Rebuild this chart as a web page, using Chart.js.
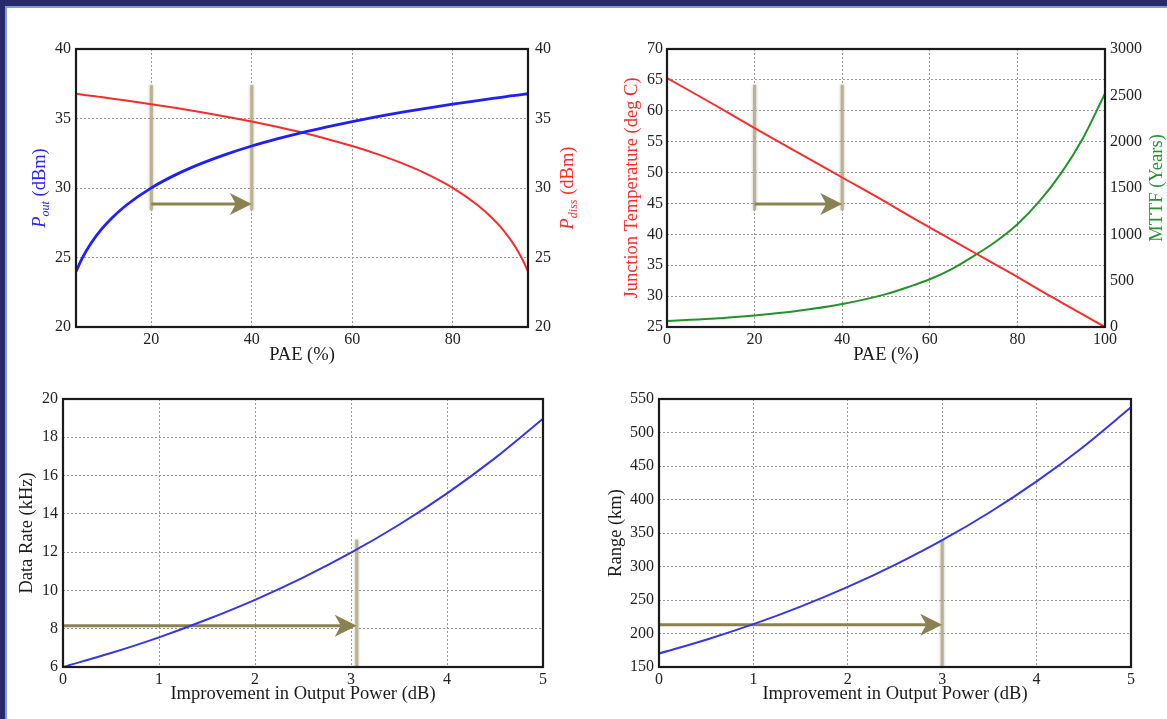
<!DOCTYPE html>
<html><head><meta charset="utf-8">
<script src="https://cdn.jsdelivr.net/npm/chart.js@4.4.1/dist/chart.umd.min.js"></script>
<style>
html,body{margin:0;padding:0;background:#fff;width:1167px;height:719px;overflow:hidden;position:relative}
.topband{position:absolute;left:0;top:0;width:1167px;height:6px;background:#262a68}
.topline{position:absolute;left:0;top:6px;width:1167px;height:2px;background:#7f9bd8}
.leftband{position:absolute;left:0;top:0;width:5px;height:719px;background:#262a68}
.leftline{position:absolute;left:5px;top:6px;width:2px;height:713px;background:#7f9bd8}
canvas{position:absolute}
</style></head>
<body>
<div class="topband"></div><div class="topline"></div><div class="leftband"></div><div class="leftline"></div>
<canvas id="c1" width="570" height="365" style="left:10px;top:10px"></canvas>
<canvas id="c2" width="582" height="365" style="left:585px;top:10px"></canvas>
<canvas id="c3" width="570" height="339" style="left:10px;top:380px"></canvas>
<canvas id="c4" width="582" height="339" style="left:585px;top:380px"></canvas>
<script>
// ---------- Chart 1: Pout / Pdiss vs PAE ----------
const paeA   = [5,6,7,8,10,12,15,20,25,30,35,40,45,50,55,60,65,70,75,80,85,88,90,92,93,94,95];
const poutA  = [23.99,24.78,25.45,26.03,27.00,27.79,28.76,30.01,30.98,31.77,32.44,33.02,33.53,33.99,34.40,34.78,35.13,35.45,35.75,36.03,36.29,36.44,36.54,36.64,36.68,36.73,36.78];
const pdissA = [36.78,36.73,36.68,36.64,36.54,36.44,36.29,36.03,35.75,35.45,35.13,34.78,34.40,33.99,33.53,33.02,32.44,31.77,30.98,30.01,28.76,27.79,27.00,26.03,25.45,24.78,23.99];
const xTicksA = [20,40,60,80];
const yTicksA = [20,25,30,35,40];
const barsA  = [20,40];          // PAE of the two marker bars
const barSpanA = [28.4,37.4];    // dBm extent of marker bars
const arrowA = [20,40,28.85];    // from PAE, to PAE, at dBm

// ---------- Chart 2: Junction temperature / MTTF vs PAE ----------
const paeB  = [0,10,20,30,40,50,55,60,65,70,75,80,85,90,95,100];
const tjB   = [65.3,61.3,57.2,53.2,49.2,45.2,43.1,41.1,39.1,37.1,35.1,33.1,31.0,29.0,27.0,25.0];
const mttfB = [65,90,125,175,248,355,430,515,625,765,920,1110,1355,1660,2040,2520];
const xTicksB = [0,20,40,60,80,100];
const yTicksB = [25,30,35,40,45,50,55,60,65,70];
const y2TicksB = [0,500,1000,1500,2000,2500,3000];
const barsB = [20,40];
const barSpanB = [43.9,64.2];
const arrowB = [20,40,44.9];

// ---------- Chart 3: Data rate vs improvement ----------
const dbC   = [0,0.5,1,1.5,2,2.5,3,3.5,4,4.5,5];
const rateC = [6.00,6.73,7.55,8.48,9.51,10.67,11.97,13.43,15.07,16.91,18.97];
const xTicksC = [0,1,2,3,4,5];
const yTicksC = [6,8,10,12,14,16,18,20];
const barsC = [3.06];
const barSpanC = [6,12.65];
const arrowC = [0,3.06,8.15];

// ---------- Chart 4: Range vs improvement ----------
const dbD    = [0,0.5,1,1.5,2,2.5,3,3.5,4,4.5,5];
const rangeD = [170,190.7,214.0,240.2,269.5,302.4,339.2,380.6,427.0,479.2,537.6];
const xTicksD = [0,1,2,3,4,5];
const yTicksD = [150,200,250,300,350,400,450,500,550];
const barsD = [3.0];
const barSpanD = [150,340];
const arrowD = [0,3.0,213];

const FONT = "'Liberation Serif','Times New Roman',serif";
const TICKC = '#222';
const GRIDC = '#9a9a9a';

function pts(xs, ys){ return xs.map((x,i)=>({x:x, y:ys[i]})); }

function yScale(pos, min, max, ticksArr, width, pad, grid){
  return {
    type:'linear', position:pos, min:min, max:max,
    afterBuildTicks: s => { s.ticks = ticksArr.map(v=>({value:v})); },
    afterFit: s => { s.width = width; },
    grid: grid ? {display:true, color:GRIDC, lineWidth:1, drawTicks:false} : {display:false, drawTicks:false},
    border: {display:false, dash:[2,2]},
    ticks: {padding:pad, color:TICKC, font:{family:FONT, size:16}, autoSkip:false, callback:v=>String(v)},
    title: {display:false}
  };
}
function xScale(min, max, ticksArr, height, pad, text, tpad){
  return {
    type:'linear', position:'bottom', min:min, max:max,
    afterBuildTicks: s => { s.ticks = ticksArr.map(v=>({value:v})); },
    afterFit: s => { s.height = height; },
    grid: {display:true, color:GRIDC, lineWidth:1, drawTicks:false},
    border: {display:false, dash:[2,2]},
    ticks: {padding:pad, color:TICKC, font:{family:FONT, size:16}, autoSkip:false, maxRotation:0, callback:v=>String(v)},
    title: {display:true, text:text, color:'#1a1a1a', font:{family:FONT, size:18.5}, padding:{top:0, bottom:tpad}}
  };
}

function drawRotTitle(ctx, cx, cy, parts, color, size){
  ctx.save();
  ctx.translate(cx, cy);
  ctx.rotate(-Math.PI/2);
  ctx.fillStyle = color;
  ctx.textBaseline = 'middle';
  ctx.textAlign = 'left';
  const fonts = parts.map(p => (p.i ? 'italic ' : '') + (p.sub ? Math.round(size*0.66) : size) + 'px ' + FONT);
  let total = 0; const ws = [];
  parts.forEach((p,k)=>{ ctx.font = fonts[k]; ws[k] = ctx.measureText(p.t).width; total += ws[k]; });
  let x = -total/2;
  parts.forEach((p,k)=>{ ctx.font = fonts[k]; ctx.fillText(p.t, x, p.sub ? size*0.3 : 0); x += ws[k]; });
  ctx.restore();
}

const deco = {
  id:'deco',
  beforeDatasetsDraw(chart, args, o){
    const ctx = chart.ctx, xs = chart.scales.x, ys = chart.scales.y;
    ctx.save();
    ctx.shadowColor = 'rgba(60,50,20,0.35)';
    ctx.shadowBlur = 3;
    ctx.strokeStyle = '#bab290';
    ctx.lineWidth = 3;
    o.bars.forEach(b=>{
      const px = xs.getPixelForValue(b);
      ctx.beginPath();
      ctx.moveTo(px, ys.getPixelForValue(o.span[0]));
      ctx.lineTo(px, ys.getPixelForValue(o.span[1]));
      ctx.stroke();
    });
    ctx.shadowBlur = 0; ctx.shadowColor = 'transparent';
    const x0 = xs.getPixelForValue(o.arrow[0]), x1 = xs.getPixelForValue(o.arrow[1]);
    const y = ys.getPixelForValue(o.arrow[2]);
    const L = 22, H = 11, N = 6;
    ctx.strokeStyle = '#8b8252'; ctx.fillStyle = '#8b8252';
    ctx.lineWidth = 3;
    ctx.beginPath(); ctx.moveTo(x0, y); ctx.lineTo(x1 - L + N + 1, y); ctx.stroke();
    ctx.beginPath();
    ctx.moveTo(x1, y); ctx.lineTo(x1 - L, y - H); ctx.lineTo(x1 - L + N, y); ctx.lineTo(x1 - L, y + H);
    ctx.closePath(); ctx.fill();
    ctx.restore();
  },
  afterDraw(chart, args, o){
    const ctx = chart.ctx, a = chart.chartArea;
    ctx.save();
    ctx.strokeStyle = '#1a1a1a'; ctx.lineWidth = 2.2;
    ctx.strokeRect(a.left, a.top, a.right - a.left, a.bottom - a.top);
    const cy = (a.top + a.bottom)/2;
    o.titles.forEach(t => drawRotTitle(ctx, t.x, cy, t.parts, t.color, 18.5));
    ctx.restore();
  }
};
Chart.register(deco);

function line(data, color, w, axis){
  return {data:data, borderColor:color, borderWidth:w, pointRadius:0, fill:false,
          cubicInterpolationMode:'monotone', yAxisID:axis};
}
function base(pad){
  return {responsive:false, animation:false, devicePixelRatio:1,
          layout:{padding:pad}, parsing:true};
}

new Chart(document.getElementById('c1'), {
  type:'line',
  data:{datasets:[ line(pts(paeA,poutA), '#1f1fff', 2.8, 'y'), line(pts(paeA,pdissA), '#ff2a2a', 2, 'y2') ]},
  options:Object.assign(base({left:0, right:0, top:39, bottom:0}), {
    scales:{
      x: xScale(5, 95, xTicksA, 48, 3, 'PAE (%)', 9),
      y: yScale('left', 20, 40, yTicksA, 66, 5, true),
      y2: yScale('right', 20, 40, yTicksA, 52, 7, false)
    },
    plugins:{legend:{display:false}, tooltip:{enabled:false},
      deco:{bars:barsA, span:barSpanA, arrow:arrowA, titles:[
        {x:30, color:'#2424ff', parts:[{t:'P', i:true},{t:'out', i:true, sub:true},{t:' (dBm)'}]},
        {x:558, color:'#ff2a2a', parts:[{t:'P', i:true},{t:'diss', i:true, sub:true},{t:' (dBm)'}]}
      ]}}
  })
});

new Chart(document.getElementById('c2'), {
  type:'line',
  data:{datasets:[ line(pts(paeB,tjB), '#ff2a2a', 2, 'y'), line(pts(paeB,mttfB), '#23932a', 2, 'y2') ]},
  options:Object.assign(base({left:0, right:0, top:39, bottom:0}), {
    scales:{
      x: xScale(0, 100, xTicksB, 48, 3, 'PAE (%)', 9),
      y: yScale('left', 25, 70, yTicksB, 82, 4, true),
      y2: yScale('right', 0, 3000, y2TicksB, 62, 5, false)
    },
    plugins:{legend:{display:false}, tooltip:{enabled:false},
      deco:{bars:barsB, span:barSpanB, arrow:arrowB, titles:[
        {x:47, color:'#ff2a2a', parts:[{t:'Junction Temperature (deg C)'}]},
        {x:572, color:'#23932a', parts:[{t:'MTTF (Years)'}]}
      ]}}
  })
});

new Chart(document.getElementById('c3'), {
  type:'line',
  data:{datasets:[ line(pts(dbC,rateC), '#3535ea', 2, 'y') ]},
  options:Object.assign(base({left:0, right:37, top:19, bottom:0}), {
    scales:{
      x: xScale(0, 5, xTicksC, 52, 3, 'Improvement in Output Power (dB)', 14),
      y: yScale('left', 6, 20, yTicksC, 53, 5, true)
    },
    plugins:{legend:{display:false}, tooltip:{enabled:false},
      deco:{bars:barsC, span:barSpanC, arrow:arrowC, titles:[
        {x:17, color:'#1a1a1a', parts:[{t:'Data Rate (kHz)'}]}
      ]}}
  })
});

new Chart(document.getElementById('c4'), {
  type:'line',
  data:{datasets:[ line(pts(dbD,rangeD), '#3535ea', 2, 'y') ]},
  options:Object.assign(base({left:0, right:36, top:19, bottom:0}), {
    scales:{
      x: xScale(0, 5, xTicksD, 52, 3, 'Improvement in Output Power (dB)', 14),
      y: yScale('left', 150, 550, yTicksD, 74, 5, true)
    },
    plugins:{legend:{display:false}, tooltip:{enabled:false},
      deco:{bars:barsD, span:barSpanD, arrow:arrowD, titles:[
        {x:31, color:'#1a1a1a', parts:[{t:'Range (km)'}]}
      ]}}
  })
});
</script>
</body></html>
